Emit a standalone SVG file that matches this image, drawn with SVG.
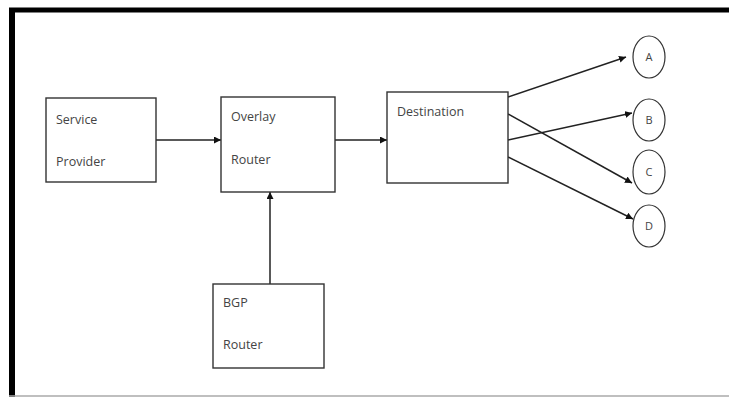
<svg xmlns="http://www.w3.org/2000/svg" width="729" height="397" viewBox="0 0 729 397">
  <defs>
    <marker id="arrow" viewBox="0 0 10 10" refX="10" refY="5" markerWidth="7" markerHeight="7" markerUnits="userSpaceOnUse" orient="auto">
      <path d="M0,0 L10,5 L0,10 z" fill="#111"/>
    </marker>
  </defs>
  <style>
    .box { fill: #fff; stroke: #333; stroke-width: 1.4; }
    .node-circle { fill: #fff; stroke: #333; stroke-width: 1.2; }
    .label { font-family: "Open Sans", "Liberation Sans", sans-serif; font-size: 12.5px; fill: #444; }
    .letter { font-family: "Open Sans", "Liberation Sans", sans-serif; font-size: 11px; fill: #444; text-anchor: middle; }
    .edge { stroke: #222; stroke-width: 1.5; fill: none; marker-end: url(#arrow); }
  </style>

  <!-- page background and frame -->
  <rect x="0" y="0" width="729" height="397" fill="#fff"/>
  <line x1="9" y1="10" x2="729" y2="10" stroke="#000" stroke-width="5"/>
  <line x1="12" y1="8" x2="12" y2="397" stroke="#000" stroke-width="6"/>
  <line x1="9" y1="396" x2="729" y2="396" stroke="#aaa" stroke-width="1.5"/>

  <!-- connectors -->
  <g id="connectors">
    <line class="edge" x1="156" y1="140" x2="221" y2="140"/>
    <line class="edge" x1="335" y1="140" x2="387" y2="140"/>
    <line class="edge" x1="270" y1="284" x2="270" y2="192"/>
    <line class="edge" x1="508" y1="97" x2="626" y2="57"/>
    <line class="edge" x1="508" y1="140" x2="632" y2="113"/>
    <line class="edge" x1="508" y1="114" x2="632" y2="183"/>
    <line class="edge" x1="508" y1="157" x2="633" y2="219"/>
  </g>

  <g id="service-provider">
    <rect class="box" x="46" y="98" width="110" height="84"/>
    <text class="label" x="56" y="124">Service</text>
    <text class="label" x="56" y="166">Provider</text>
  </g>

  <g id="overlay-router">
    <rect class="box" x="221" y="97" width="114" height="95"/>
    <text class="label" x="231" y="121">Overlay</text>
    <text class="label" x="231" y="164">Router</text>
  </g>

  <g id="destination">
    <rect class="box" x="387" y="92" width="121" height="91"/>
    <text class="label" x="397" y="116">Destination</text>
  </g>

  <g id="bgp-router">
    <rect class="box" x="213" y="284" width="111" height="84"/>
    <text class="label" x="223" y="307">BGP</text>
    <text class="label" x="223" y="349">Router</text>
  </g>

  <g id="node-a">
    <ellipse class="node-circle" cx="649" cy="57" rx="16" ry="21"/>
    <text class="letter" x="649" y="61">A</text>
  </g>
  <g id="node-b">
    <ellipse class="node-circle" cx="649" cy="120" rx="16" ry="21"/>
    <text class="letter" x="649" y="124">B</text>
  </g>
  <g id="node-c">
    <ellipse class="node-circle" cx="649" cy="172" rx="16" ry="22"/>
    <text class="letter" x="649" y="176">C</text>
  </g>
  <g id="node-d">
    <ellipse class="node-circle" cx="649" cy="226" rx="16" ry="21"/>
    <text class="letter" x="649" y="230">D</text>
  </g>
</svg>
